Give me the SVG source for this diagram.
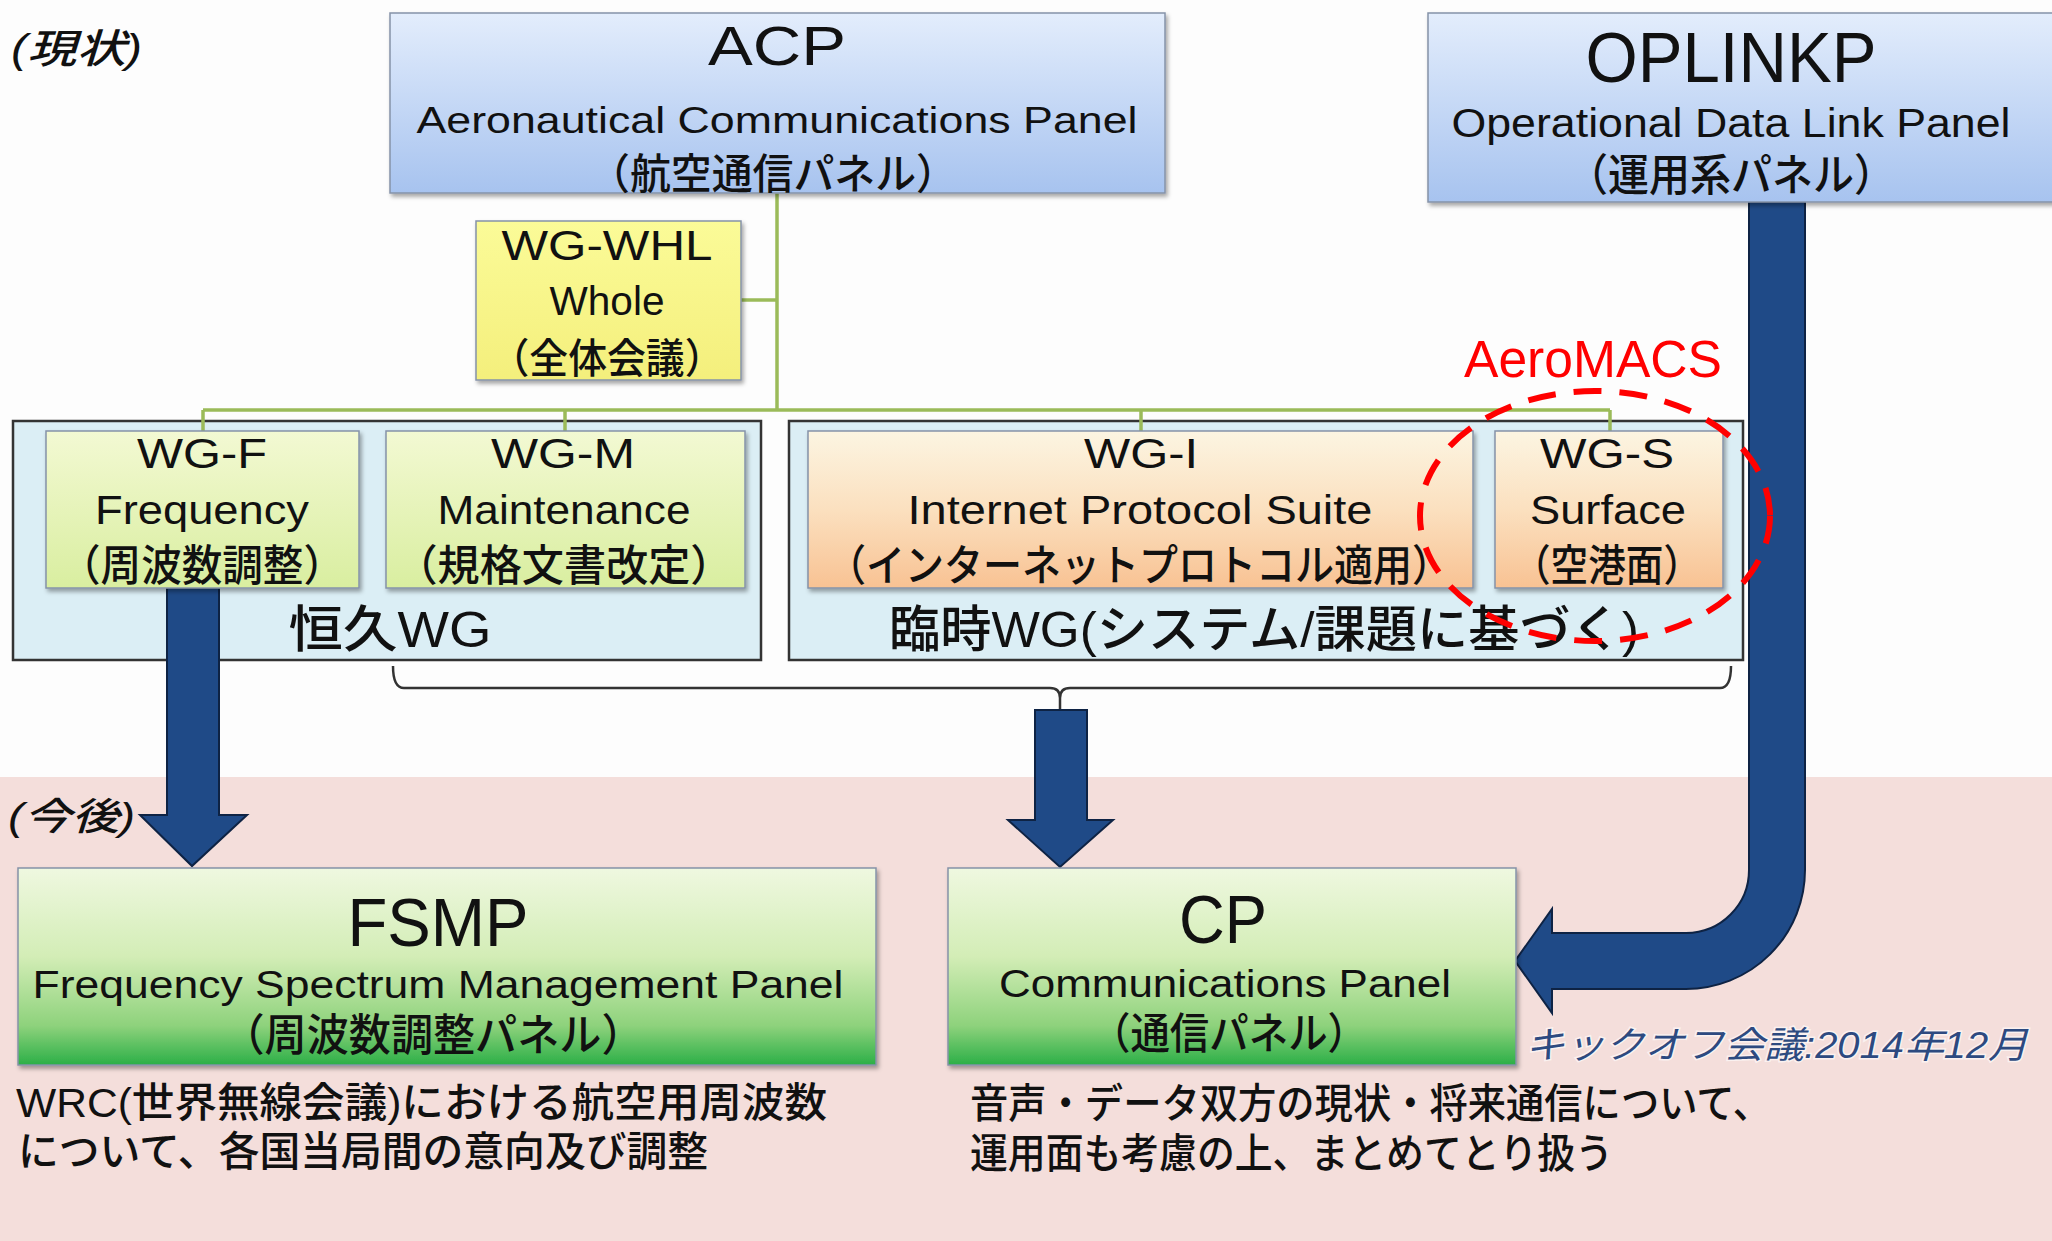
<svg xmlns="http://www.w3.org/2000/svg" width="2052" height="1241" viewBox="0 0 2052 1241">
<defs>
<linearGradient id="gBlue" x1="0" y1="0" x2="0" y2="1"><stop offset="0" stop-color="#e3edfc"/><stop offset="1" stop-color="#a7c3ef"/></linearGradient>
<linearGradient id="gYellow" x1="0" y1="0" x2="0" y2="1"><stop offset="0" stop-color="#fbfb98"/><stop offset="1" stop-color="#f4ef7c"/></linearGradient>
<linearGradient id="gLime" x1="0" y1="0" x2="0" y2="1"><stop offset="0" stop-color="#f3f9d3"/><stop offset="1" stop-color="#d9eea0"/></linearGradient>
<linearGradient id="gOrange" x1="0" y1="0" x2="0" y2="1"><stop offset="0" stop-color="#fcf5e2"/><stop offset="0.5" stop-color="#fbe0bf"/><stop offset="1" stop-color="#f8c293"/></linearGradient>
<linearGradient id="gGreen" x1="0" y1="0" x2="0" y2="1"><stop offset="0" stop-color="#eff8e0"/><stop offset="0.45" stop-color="#d3edb6"/><stop offset="0.8" stop-color="#8ed27c"/><stop offset="1" stop-color="#2caf47"/></linearGradient>
<filter id="sh" x="-5%" y="-5%" width="110%" height="120%"><feDropShadow dx="2" dy="3" stdDeviation="2" flood-color="#000" flood-opacity="0.35"/></filter>
<style>
.t{font-family:"Liberation Sans","Noto Sans CJK JP",sans-serif;font-weight:500;fill:#111;text-anchor:middle}
.a{font-family:"Liberation Sans",Arial,sans-serif;fill:#111;text-anchor:middle}
.l{font-family:"Liberation Sans","Noto Sans CJK JP",sans-serif;font-weight:500;fill:#111}
.box{stroke:#8593a8;stroke-width:1.5;filter:url(#sh)}
.cont{fill:#dbeef5;stroke:#333;stroke-width:2.5}
.conn{fill:none;stroke:#9bbb59;stroke-width:3.5}
.brace{fill:none;stroke:#333;stroke-width:2.5}
.arrow{fill:#1f4a87;stroke:#0e2344;stroke-width:2}
</style>
</defs>

<rect x="0" y="0" width="2052" height="1241" fill="#fdfdfd"/>
<rect x="0" y="777" width="2052" height="464" fill="#f4dedb"/>

<text class="l" x="11" y="63" font-size="40" font-weight="bold" font-style="italic" textLength="131" lengthAdjust="spacingAndGlyphs">(現状)</text>
<text class="l" x="8" y="830" font-size="38" font-weight="bold" font-style="italic" textLength="127" lengthAdjust="spacingAndGlyphs">(今後)</text>

<g id="containers">
<rect id="permanent" class="cont" x="13" y="421" width="748" height="239"/>
<rect id="temporary" class="cont" x="789" y="421" width="954" height="239"/>
<text class="t" x="390" y="647" font-size="50" textLength="203" lengthAdjust="spacingAndGlyphs">恒久WG</text>
<text class="t" x="1264" y="647" font-size="50" textLength="750" lengthAdjust="spacingAndGlyphs">臨時WG(システム/課題に基づく)</text>
</g>

<g id="connectors">
<path class="conn" d="M777,193 V410 M741,300 H777 M203,410 H1610 M203,410 V431 M565,410 V431 M1141,410 V431 M1610,410 V431"/>
<path class="brace" d="M393,666 Q393,688 404,688 L1050,688 Q1060,688 1060,698 L1060,710 M1060,698 Q1060,688 1070,688 L1720,688 Q1731,688 1731,666"/>
<polygon class="arrow" points="167,588 219,588 219,815 247,815 192,866 140,815 167,815"/>
<polygon class="arrow" points="1035,710 1087,710 1087,820 1113,820 1060,867 1008,820 1035,820"/>
<path class="arrow" d="M1749,202 L1805,202 L1805,870 A119,119 0 0 1 1686,989 L1552,989 L1552,1013 L1515,961 L1552,909 L1552,933 L1686,933 A63,63 0 0 0 1749,870 Z"/>
</g>

<g id="acp">
<rect class="box" x="390" y="13" width="775" height="180" fill="url(#gBlue)"/>
<text class="a" x="777" y="65" font-size="56" textLength="138" lengthAdjust="spacingAndGlyphs">ACP</text>
<text class="a" x="777" y="133" font-size="36" textLength="721" lengthAdjust="spacingAndGlyphs">Aeronautical Communications Panel</text>
<text class="t" x="773" y="189" font-size="42" textLength="368" lengthAdjust="spacingAndGlyphs">（航空通信パネル）</text>
</g>

<g id="oplinkp">
<rect class="box" x="1428" y="13" width="640" height="189" fill="url(#gBlue)"/>
<text class="a" x="1731" y="82" font-size="70" textLength="291" lengthAdjust="spacingAndGlyphs">OPLINKP</text>
<text class="a" x="1731" y="137" font-size="41" textLength="559" lengthAdjust="spacingAndGlyphs">Operational Data Link Panel</text>
<text class="t" x="1731" y="191" font-size="44" textLength="328" lengthAdjust="spacingAndGlyphs">（運用系パネル）</text>
</g>

<g id="wg-whl">
<rect class="box" x="476" y="221" width="265" height="159" fill="url(#gYellow)"/>
<text class="a" x="607" y="260" font-size="42" textLength="211" lengthAdjust="spacingAndGlyphs">WG-WHL</text>
<text class="a" x="607" y="315" font-size="41" textLength="115" lengthAdjust="spacingAndGlyphs">Whole</text>
<text class="t" x="607" y="373" font-size="41" textLength="233" lengthAdjust="spacingAndGlyphs">（全体会議）</text>
</g>

<g id="wg-f">
<rect class="box" x="46" y="431" width="313" height="157" fill="url(#gLime)"/>
<text class="a" x="202" y="468" font-size="42" textLength="130" lengthAdjust="spacingAndGlyphs">WG-F</text>
<text class="a" x="202" y="524" font-size="40" textLength="214" lengthAdjust="spacingAndGlyphs">Frequency</text>
<text class="t" x="202" y="581" font-size="43" textLength="284" lengthAdjust="spacingAndGlyphs">（周波数調整）</text>
</g>

<g id="wg-m">
<rect class="box" x="386" y="431" width="359" height="157" fill="url(#gLime)"/>
<text class="a" x="563" y="468" font-size="42" textLength="144" lengthAdjust="spacingAndGlyphs">WG-M</text>
<text class="a" x="564" y="524" font-size="40" textLength="253" lengthAdjust="spacingAndGlyphs">Maintenance</text>
<text class="t" x="564" y="581" font-size="43" textLength="337" lengthAdjust="spacingAndGlyphs">（規格文書改定）</text>
</g>

<g id="wg-i">
<rect class="box" x="808" y="431" width="665" height="157" fill="url(#gOrange)"/>
<text class="a" x="1141" y="468" font-size="42" textLength="114" lengthAdjust="spacingAndGlyphs">WG-I</text>
<text class="a" x="1140" y="524" font-size="40" textLength="465" lengthAdjust="spacingAndGlyphs">Internet Protocol Suite</text>
<text class="t" x="1139" y="581" font-size="43" textLength="624" lengthAdjust="spacingAndGlyphs">（インターネットプロトコル適用）</text>
</g>

<g id="wg-s">
<rect class="box" x="1495" y="431" width="228" height="157" fill="url(#gOrange)"/>
<text class="a" x="1607" y="468" font-size="42" textLength="134" lengthAdjust="spacingAndGlyphs">WG-S</text>
<text class="a" x="1608" y="524" font-size="40" textLength="156" lengthAdjust="spacingAndGlyphs">Surface</text>
<text class="t" x="1607" y="581" font-size="43" textLength="188" lengthAdjust="spacingAndGlyphs">（空港面）</text>
</g>

<g id="aeromacs">
<ellipse cx="1595" cy="516" rx="175" ry="125" fill="none" stroke="#ff0000" stroke-width="6" stroke-dasharray="28 18"/>
<text x="1593" y="377" font-family="'Liberation Sans',Arial,sans-serif" font-size="51" fill="#ff0000" text-anchor="middle" textLength="258" lengthAdjust="spacingAndGlyphs">AeroMACS</text>
</g>

<g id="fsmp">
<rect class="box" x="18" y="868" width="858" height="197" fill="url(#gGreen)"/>
<text class="a" x="438" y="946" font-size="69" textLength="181" lengthAdjust="spacingAndGlyphs">FSMP</text>
<text class="a" x="438" y="998" font-size="38" textLength="811" lengthAdjust="spacingAndGlyphs">Frequency Spectrum Management Panel</text>
<text class="t" x="433" y="1051" font-size="44" textLength="421" lengthAdjust="spacingAndGlyphs">（周波数調整パネル）</text>
<text class="l" x="16" y="1117" font-size="41" textLength="811" lengthAdjust="spacingAndGlyphs">WRC(世界無線会議)における航空用周波数</text>
<text class="l" x="18" y="1166" font-size="41" textLength="690" lengthAdjust="spacingAndGlyphs">について、各国当局間の意向及び調整</text>
</g>

<g id="cp">
<rect class="box" x="948" y="868" width="568" height="197" fill="url(#gGreen)"/>
<text class="a" x="1223" y="943" font-size="68" textLength="88" lengthAdjust="spacingAndGlyphs">CP</text>
<text class="a" x="1225" y="997" font-size="38" textLength="452" lengthAdjust="spacingAndGlyphs">Communications Panel</text>
<text class="t" x="1229" y="1049" font-size="43" textLength="276" lengthAdjust="spacingAndGlyphs">（通信パネル）</text>
<text class="l" x="970" y="1118" font-size="41" textLength="801" lengthAdjust="spacingAndGlyphs">音声・データ双方の現状・将来通信について、</text>
<text class="l" x="970" y="1168" font-size="41" textLength="643" lengthAdjust="spacingAndGlyphs">運用面も考慮の上、まとめてとり扱う</text>
</g>

<g id="kickoff">
<text x="1525" y="1058" font-family="'Liberation Sans','Noto Sans CJK JP',sans-serif" font-size="37" font-style="italic" fill="#2d4a80" stroke="#ffffff" stroke-width="3" stroke-opacity="0.6" paint-order="stroke" textLength="503" lengthAdjust="spacingAndGlyphs">キックオフ会議:2014年12月</text>
</g>
</svg>
